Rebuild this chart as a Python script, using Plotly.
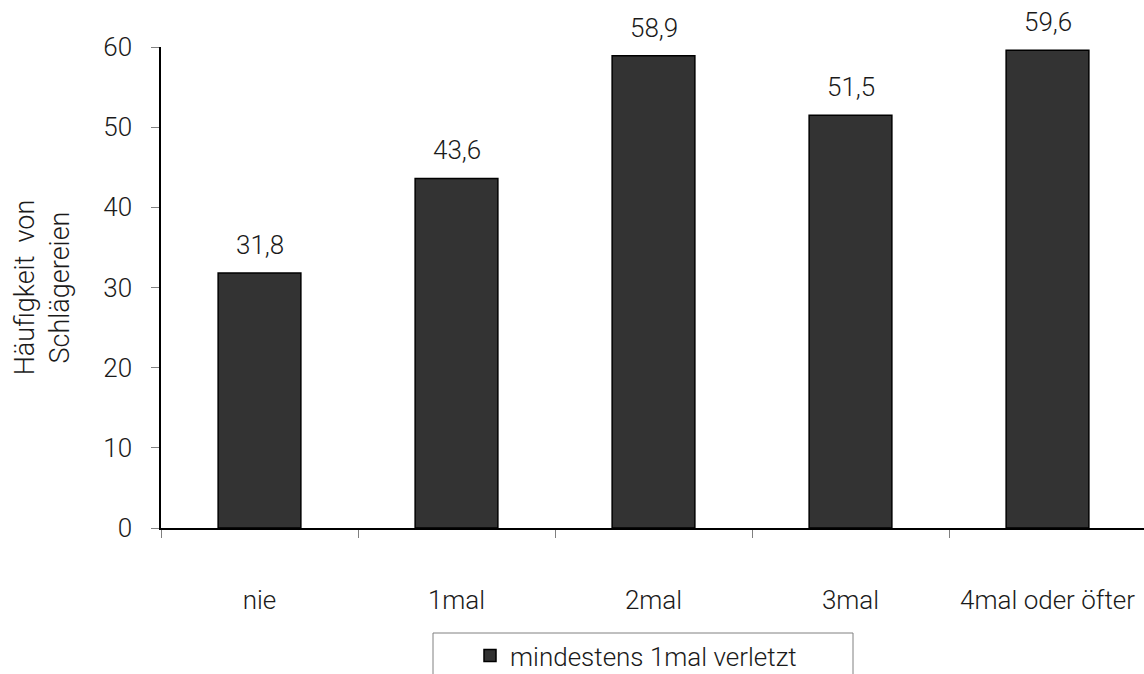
import plotly.graph_objects as go

# Häufigkeit von Schlägereien nach Anzahl der Verletzungen
categories = ["nie", "1mal", "2mal", "3mal", "4mal oder öfter"]
values = [31.8, 43.6, 58.9, 51.5, 59.6]
series_name = "mindestens 1mal verletzt"
y_ticks = [0, 10, 20, 30, 40, 50, 60]

FONT = "Roboto"
FW = 300
FS = 26
TXT = "#1a1a1a"
W, H = 1144, 674
L, T, B = 161, 47, 146
cat_px = 197  # width of one category slot in pixels
plot_w = W - L
plot_h = H - T - B


def py(pix):
    """Pixel row -> paper y coordinate."""
    return (H - B - pix) / plot_h


fig = go.Figure()
fig.add_trace(go.Bar(
    x=categories,
    y=values,
    name=series_name,
    width=0.42,
    marker=dict(color="#333333", line=dict(color="#000000", width=1.5)),
    showlegend=True,
))

# value labels above bars
for c, v in zip(categories, values):
    fig.add_annotation(
        x=c, y=v, text=f"{v:.1f}".replace(".", ","),
        showarrow=False, yanchor="middle", yshift=28,
        font=dict(family=FONT, size=FS, color=TXT, weight=FW),
    )

# legend frame
fig.add_shape(
    type="rect", xref="paper", yref="paper",
    x0=(433 - L) / plot_w, x1=(853 - L) / plot_w,
    y0=py(H + 10), y1=py(633),
    line=dict(color="#808080", width=1), fillcolor="rgba(0,0,0,0)",
    layer="below",
)

fig.update_layout(
    width=W, height=H,
    margin=dict(l=L, r=0, t=T, b=B, autoexpand=False),
    paper_bgcolor="white", plot_bgcolor="white",
    font=dict(family=FONT, size=FS, color=TXT, weight=FW),
    showlegend=True,
    legend=dict(
        orientation="h", x=(470 - L) / plot_w, xanchor="left",
        y=py(632), yanchor="top",
        font=dict(family=FONT, size=FS, color=TXT, weight=FW),
        bgcolor="rgba(0,0,0,0)", borderwidth=0,
        itemwidth=30,
    ),
    xaxis=dict(
        type="category",
        range=[-0.5, -0.5 + plot_w / cat_px],
        showline=True, linecolor="#000000", linewidth=1.5,
        ticks="outside", tickson="boundaries", ticklen=8,
        tickcolor="#808080", tickwidth=1,
        ticklabelstandoff=48,
        showgrid=False, zeroline=False,
    ),
    yaxis=dict(
        range=[0, 60], tickvals=y_ticks,
        showline=True, linecolor="#000000", linewidth=1.5,
        ticks="outside", ticklen=8, tickcolor="#808080", tickwidth=1,
        ticklabelstandoff=14,
        showgrid=False, zeroline=False,
        title=dict(text="Häufigkeit  von<br>Schlägereien", standoff=26,
                   font=dict(family=FONT, size=27, color=TXT, weight=FW)),
    ),
)

fig.write_html("out.html")
